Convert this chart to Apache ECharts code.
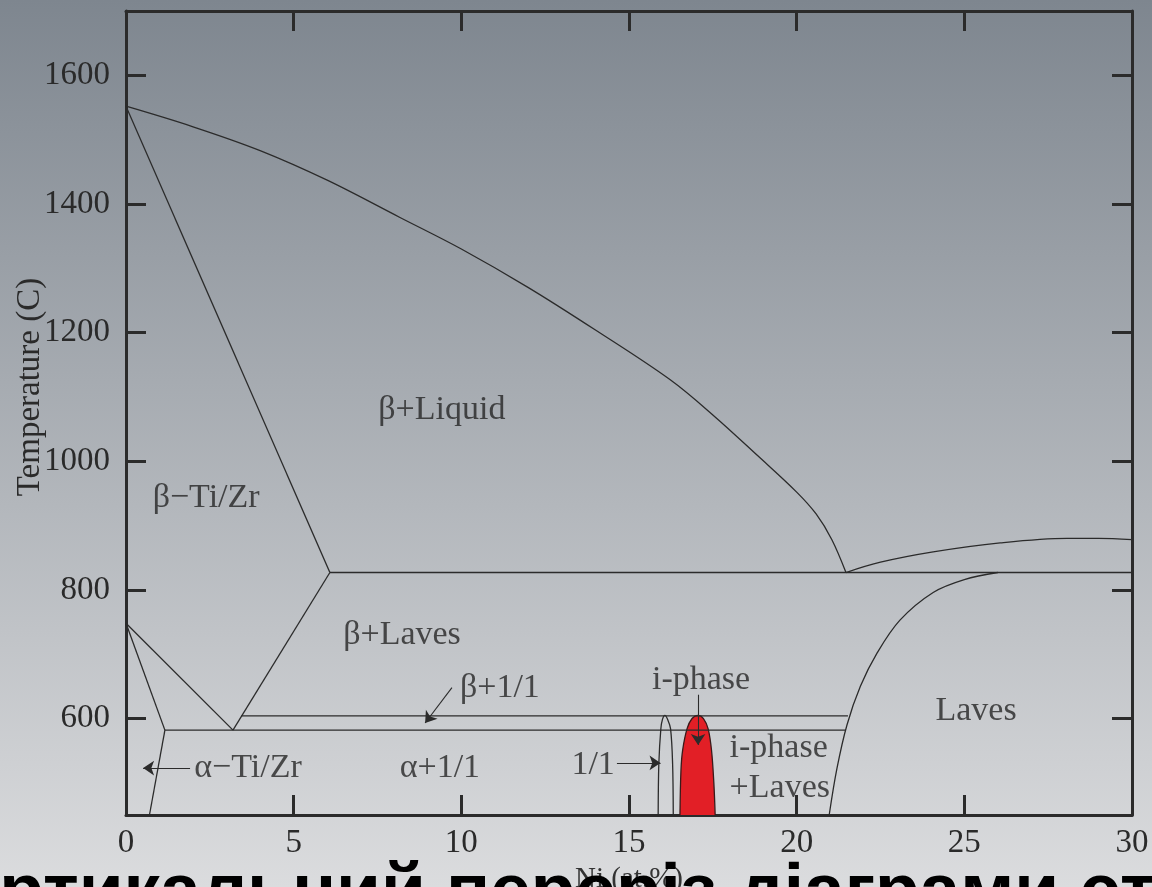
<!DOCTYPE html>
<html><head><meta charset="utf-8">
<script src="https://cdn.jsdelivr.net/npm/echarts@6/dist/echarts.min.js"></script>
<style>html,body{margin:0;padding:0;width:1152px;height:887px;overflow:hidden;}#c{width:1152px;height:887px;}</style>
</head><body><div id="c"></div>
<script>
// ---- data (x = Ni at.%, y = Temperature C) ----
const xTicks = [0, 5, 10, 15, 20, 25, 30];
const yTicks = [600, 800, 1000, 1200, 1400, 1600];
const liquidus = [[0,1552],[2,1520],[4,1483],[6,1437],[8.17,1379],[10,1330],[12,1270],[14,1204],[16.22,1127],[17.5,1072],[18.85,1008],[20,952],[20.58,918],[21.05,878],[21.47,827]];
const betaSolvus = [[0,1552],[6.08,827]];
const eutecticLine = [[6.08,827],[30,827]];
const vRightArm = [[6.08,827],[3.19,582]];
const vLeftArm = [[0,748],[3.19,582]];
const alphaUpper = [[0,748],[1.16,582]];
const alphaLower = [[1.16,582],[0.7,450]];
const lowerIsotherm = [[1.16,582],[21.47,582]];
const upperIsotherm = [[3.44,604],[21.53,604]];
const phase11 = [[15.87,450],[15.89,530],[15.95,584],[16.0,599],[16.07,605],[16.15,599],[16.24,584],[16.3,530],[16.32,450]];
const iPhase = [[16.52,450],[16.55,520],[16.6,551],[16.73,584],[16.88,600],[17.06,605],[17.22,600],[17.36,584],[17.46,551],[17.53,500],[17.57,450]];
const lavesSolvus = [[20.97,450],[21.2,522],[21.5,590],[21.9,650],[22.4,702],[23.08,753],[24.07,796],[25,816],[26,827]];
const lavesLiquidus = [[21.47,827],[22.5,843],[24.07,859],[26.07,873],[28.06,880],[29,880],[30,878]];
const regionLabels = [[2.39,943,'β−Ti/Zr'],[9.42,1080,'β+Liquid'],[8.23,730,'β+Laves'],[11.15,648,'β+1/1'],[3.64,523,'α−Ti/Zr'],[9.36,523,'α+1/1'],[13.93,528,'1/1'],[17.15,660,'i-phase'],[25.35,612,'Laves']];
const leftLabels = [[18.0,554,'i-phase'],[18.0,492,'+Laves']];
const arrows = [[[9.72,648],[8.92,593]],[[1.91,523],[0.51,523]],[[14.64,531],[15.94,531]],[[17.06,637],[17.06,559]]];
const xName = 'Ni (at.%)';
const yName = 'Temperature (C)';
const bannerText = 'Вертикальний переріз діаграми стану';

const SERIF = "'Liberation Serif','Times New Roman',serif";
const INK = '#2b2b2b';
const lineDefs = [liquidus, betaSolvus, eutecticLine, vRightArm, vLeftArm, alphaUpper, alphaLower, lowerIsotherm, upperIsotherm, phase11, lavesSolvus, lavesLiquidus];
const curved = new Set([liquidus, phase11, lavesSolvus, lavesLiquidus]);

const series = lineDefs.map(d => ({
  type: 'line', data: d, showSymbol: false, symbol: 'none', silent: true,
  smooth: curved.has(d) ? 0.35 : false,
  lineStyle: { color: INK, width: 1.3 }, z: 3
}));
series.push({
  type: 'line', data: iPhase, showSymbol: false, symbol: 'none', silent: true, smooth: 0.35,
  lineStyle: { color: '#3a1a1a', width: 1.3 },
  areaStyle: { color: '#e21f26', opacity: 1, origin: 'start' }, z: 2
});
series.push({
  type: 'scatter', data: regionLabels, symbolSize: 0, silent: true, z: 5,
  label: { show: true, position: 'inside', formatter: p => p.data[2], fontFamily: SERIF, fontSize: 34, color: '#262626' },
  markLine: {
    silent: true, animation: false, symbol: ['none', 'arrow'], symbolSize: 11,
    lineStyle: { color: INK, width: 1.1, type: 'solid' }, label: { show: false },
    data: arrows.map(a => [{ coord: a[0] }, { coord: a[1] }])
  }
});
series.push({
  type: 'scatter', data: leftLabels, symbolSize: 0, silent: true, z: 5,
  label: { show: true, position: 'inside', align: 'left', formatter: p => p.data[2], fontFamily: SERIF, fontSize: 34, color: '#262626' }
});

const axisLine = { show: true, onZero: false, lineStyle: { color: INK, width: 3 } };
const axisTick = { show: true, inside: true, length: 20, lineStyle: { color: INK, width: 3 } };

const chart = echarts.init(document.getElementById('c'), null, { renderer: 'canvas' });
chart.setOption({
  animation: false,
  backgroundColor: { type: 'linear', x: 0, y: 0, x2: 0, y2: 1, colorStops: [{ offset: 0, color: '#7e868f' }, { offset: 1, color: '#dbdcde' }] },
  grid: { left: 126, right: 20, top: 11, bottom: 72, containLabel: false, outerBoundsMode: 'none' },
  xAxis: [
    { type: 'value', position: 'bottom', min: xTicks[0], max: xTicks[xTicks.length - 1], interval: 5,
      axisLine, axisTick, splitLine: { show: false },
      axisLabel: { fontFamily: SERIF, fontSize: 33, color: '#2a2a2a', margin: 12, formatter: v => String(v) },
      name: xName, nameLocation: 'middle', nameGap: 31, nameTextStyle: { fontFamily: SERIF, fontSize: 29, color: '#333' } },
    { type: 'value', position: 'top', min: xTicks[0], max: xTicks[xTicks.length - 1], interval: 5,
      axisLine, axisTick, splitLine: { show: false }, axisLabel: { show: false } }
  ],
  yAxis: [
    { type: 'value', position: 'left', min: 450, max: 1700,
      axisLine, axisTick: Object.assign({ customValues: yTicks }, axisTick), splitLine: { show: false },
      axisLabel: { customValues: yTicks, fontFamily: SERIF, fontSize: 33, color: '#2a2a2a', margin: 16, formatter: v => String(v) } },
    { type: 'value', position: 'right', min: 450, max: 1700,
      axisLine, axisTick: Object.assign({ customValues: yTicks }, axisTick), splitLine: { show: false },
      axisLabel: { show: false } }
  ],
  graphic: [
    { type: 'text', x: 30, y: 387, rotation: Math.PI / 2, z: 10,
      style: { text: yName, font: '33px ' + SERIF, fill: '#2a2a2a', textAlign: 'center', textVerticalAlign: 'middle' } },
    { type: 'text', x: -94, y: 894, z: 20,
      style: { text: bannerText, font: 'bold 73px "Liberation Sans", Arial, sans-serif', fill: '#000', textAlign: 'left', textVerticalAlign: 'middle' } }
  ],
  series
});
</script>
</body></html>
